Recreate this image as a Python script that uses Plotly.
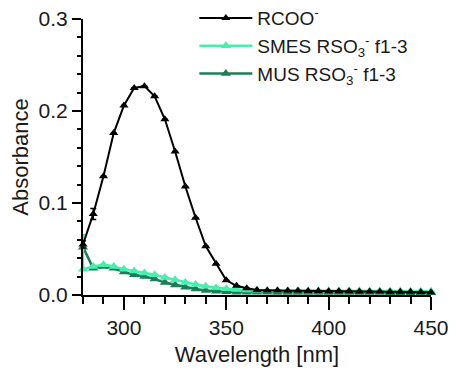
import plotly.graph_objects as go

wavelength = list(range(280, 455, 5))

rcoo = [0.055, 0.088, 0.129, 0.176, 0.206, 0.225, 0.227, 0.216, 0.191, 0.156,
        0.118, 0.084, 0.053, 0.034, 0.016, 0.010, 0.0073, 0.0055, 0.0050, 0.0048,
        0.0046, 0.0045, 0.0044, 0.0043, 0.0042, 0.0041, 0.0040, 0.0039, 0.0038,
        0.0037, 0.0036, 0.0035, 0.0034, 0.0033, 0.0030]
rcoo_err = [0.004, 0.006] + [0.0] * 33

smes = [0.028, 0.031, 0.033, 0.031, 0.028, 0.026, 0.024, 0.022, 0.019, 0.0165,
        0.0135, 0.0115, 0.0095, 0.0080, 0.0068, 0.0060, 0.0055, 0.0052, 0.0050, 0.0049,
        0.0048, 0.0048, 0.0047, 0.0047, 0.0046, 0.0046, 0.0045, 0.0045, 0.0044,
        0.0044, 0.0043, 0.0043, 0.0042, 0.0042, 0.0041]
smes_err_plus = [0.037] + [0.0] * 34
smes_err_minus = [0.0] * 35

mus = [0.052, 0.029, 0.031, 0.029, 0.025, 0.022, 0.020, 0.0175, 0.0135, 0.011,
       0.0085, 0.0065, 0.0050, 0.0040, 0.0035, 0.0031, 0.0030, 0.0029, 0.0029, 0.0028,
       0.0028, 0.0028, 0.0027, 0.0027, 0.0027, 0.0027, 0.0026, 0.0026, 0.0026,
       0.0026, 0.0025, 0.0025, 0.0025, 0.0025, 0.0025]

names = ["RCOO<sup>-</sup>",
         "SMES RSO<sub>3</sub><sup>-</sup> f1-3",
         "MUS RSO<sub>3</sub><sup>-</sup> f1-3"]

BLACK = "#000000"
LIGHT = "#45EFAD"
DARK = "#1E7D58"

fig = go.Figure()
fig.add_trace(go.Scatter(
    x=wavelength, y=mus, name=names[2], mode="lines+markers", legendrank=3,
    line=dict(color=DARK, width=2.5),
    marker=dict(symbol="triangle-up", size=9, color=DARK),
    cliponaxis=False))
fig.add_trace(go.Scatter(
    x=wavelength, y=smes, name=names[1], mode="lines+markers", legendrank=2,
    line=dict(color=LIGHT, width=2.5),
    marker=dict(symbol="triangle-up", size=9, color=LIGHT),
    error_y=dict(type="data", array=smes_err_plus, arrayminus=smes_err_minus,
                 color=LIGHT, thickness=2.5, width=3),
    cliponaxis=False))
fig.add_trace(go.Scatter(
    x=wavelength, y=rcoo, name=names[0], mode="lines+markers", legendrank=1,
    line=dict(color=BLACK, width=2),
    marker=dict(symbol="triangle-up", size=8, color=BLACK),
    error_y=dict(type="data", array=rcoo_err, color=BLACK, thickness=1.5, width=3),
    cliponaxis=False))

font = dict(family="Arial, Liberation Sans, sans-serif", size=21, color="#1a1a1a")

fig.update_layout(
    width=456, height=372,
    margin=dict(l=83, r=25, t=19, b=77, autoexpand=False),
    paper_bgcolor="white", plot_bgcolor="white",
    font=font,
    showlegend=True,
    legend=dict(x=0.32, xanchor="left", y=1.072, yanchor="top",
                bgcolor="rgba(0,0,0,0)", font=dict(size=19),
                tracegroupgap=0, itemwidth=53),
    xaxis=dict(
        range=[280, 450], tick0=300, dtick=50,
        showline=True, linecolor="black", linewidth=2,
        ticks="outside", ticklen=13, tickwidth=2, tickcolor="black",
        minor=dict(dtick=10, tick0=280, ticks="outside", ticklen=7,
                   tickwidth=2, tickcolor="black"),
        showgrid=False, zeroline=False,
        title=dict(text="Wavelength [nm]", font=dict(size=22), standoff=8),
    ),
    yaxis=dict(
        range=[0, 0.3], dtick=0.1, tickformat=".1f",
        showline=True, linecolor="black", linewidth=2,
        ticks="outside", ticklen=9, tickwidth=2, tickcolor="black",
        minor=dict(dtick=0.02, ticks="outside", ticklen=4,
                   tickwidth=2, tickcolor="black"),
        showgrid=False, zeroline=False,
        title=dict(text="Absorbance", font=dict(size=22), standoff=4),
    ),
)

# remove the browser's default 8px body margin so the figure fills the window
fig.write_html("out.html", config={"displayModeBar": False},
               post_script="document.body.style.margin='0';")
